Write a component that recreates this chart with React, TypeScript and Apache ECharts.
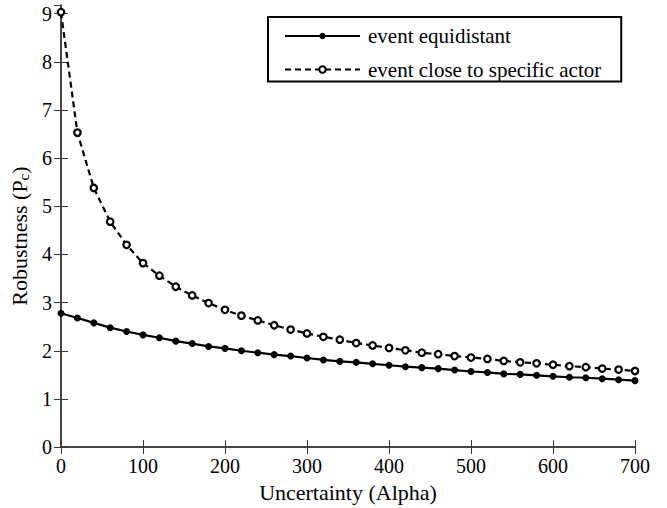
import React, { useEffect, useRef } from "react";
import * as echarts from "echarts";

const alpha = [0, 20, 40, 60, 80, 100, 120, 140, 160, 180, 200, 220, 240, 260, 280, 300, 320, 340, 360, 380, 400, 420, 440, 460, 480, 500, 520, 540, 560, 580, 600, 620, 640, 660, 680, 700];
const equidistant = [2.78, 2.68, 2.58, 2.48, 2.40, 2.33, 2.27, 2.20, 2.15, 2.09, 2.05, 2.00, 1.96, 1.92, 1.89, 1.85, 1.81, 1.78, 1.76, 1.73, 1.70, 1.67, 1.65, 1.63, 1.60, 1.57, 1.55, 1.52, 1.51, 1.49, 1.47, 1.45, 1.44, 1.42, 1.40, 1.38];
const closeToActor = [9.03, 6.53, 5.38, 4.68, 4.20, 3.82, 3.56, 3.33, 3.15, 2.99, 2.85, 2.73, 2.63, 2.53, 2.44, 2.36, 2.29, 2.23, 2.16, 2.11, 2.06, 2.01, 1.96, 1.93, 1.89, 1.86, 1.83, 1.79, 1.76, 1.74, 1.71, 1.68, 1.66, 1.63, 1.61, 1.58];
const seriesNames = ["event equidistant", "event close to specific actor"];
const xTitle = "Uncertainty (Alpha)";

const FONT = "Liberation Serif, Times New Roman, serif";
const AXIS_COLOR = "#3a3a3a";

export default function App() {
  const ref = useRef<HTMLDivElement>(null);
  useEffect(() => {
    if (!ref.current) return;
    const chart = echarts.init(ref.current, null, { renderer: "svg" });
    const tickStyle = { show: true, inside: true, length: 7, lineStyle: { color: AXIS_COLOR, width: 1 } };
    const lineStyle = { show: true, lineStyle: { color: AXIS_COLOR, width: 1.5 } };
    chart.setOption({
      animation: false,
      backgroundColor: "#fff",
      grid: { left: 61, right: 32, top: 5, bottom: 59 },
      legend: {
        orient: "vertical",
        left: 268,
        top: 17,
        padding: [8, 20, 1, 16],
        itemGap: 11.5,
        itemWidth: 75,
        itemHeight: 8,
        borderColor: "#000",
        borderWidth: 2,
        backgroundColor: "#fff",
        textStyle: { fontFamily: FONT, fontSize: 21, lineHeight: 22, color: "#000", padding: [0, 0, 0, 3] },
        data: [
          { name: seriesNames[0], itemStyle: { color: "#000" } },
          { name: seriesNames[1], itemStyle: { color: "#fff", borderColor: "#000", borderWidth: 2 } },
        ],
      },
      xAxis: [
        {
          type: "value",
          min: 0,
          max: 700,
          interval: 100,
          position: "bottom",
          axisLine: lineStyle,
          axisTick: tickStyle,
          splitLine: { show: false },
          axisLabel: { fontFamily: FONT, fontSize: 20, color: "#000", margin: 9 },
          name: xTitle,
          nameLocation: "middle",
          nameGap: 26,
          nameTextStyle: { fontFamily: FONT, fontSize: 22, lineHeight: 22, color: "#000" },
        },
        {
          type: "value",
          min: 0,
          max: 700,
          interval: 100,
          position: "top",
          axisLine: lineStyle,
          axisTick: tickStyle,
          splitLine: { show: false },
          axisLabel: { show: false },
        },
      ],
      yAxis: [
        {
          type: "value",
          min: 0,
          max: 9.18,
          interval: 1,
          position: "left",
          axisLine: lineStyle,
          axisTick: tickStyle,
          splitLine: { show: false },
          axisLabel: {
            fontFamily: FONT,
            fontSize: 20,
            color: "#000",
            margin: 9,
            showMaxLabel: false,
            formatter: (v: number) => (Math.abs(v - Math.round(v)) < 1e-6 ? String(Math.round(v)) : ""),
          },
          name: "{a|Robustness (P}{s|c}{a|)}",
          nameLocation: "middle",
          nameGap: 25,
          nameTextStyle: {
            fontFamily: FONT,
            fontSize: 22,
            color: "#000",
            padding: [0, 20, 0, 0],
            rich: {
              a: { fontFamily: FONT, fontSize: 22, color: "#000" },
              s: { fontFamily: FONT, fontSize: 15, color: "#000", verticalAlign: "bottom", padding: [9, 0, 0, 0] },
            },
          },
        },
        {
          type: "value",
          min: 0,
          max: 9.18,
          interval: 1,
          position: "right",
          axisLine: lineStyle,
          axisTick: tickStyle,
          splitLine: { show: false },
          axisLabel: { show: false },
        },
      ],
      series: [
        {
          name: seriesNames[0],
          type: "line",
          data: alpha.map((x, i) => [x, equidistant[i]]),
          symbol: "circle",
          symbolSize: 7,
          itemStyle: { color: "#000" },
          lineStyle: { color: "#000", width: 2.2 },
          z: 3,
        },
        {
          name: seriesNames[1],
          type: "line",
          data: alpha.map((x, i) => [x, closeToActor[i]]),
          symbol: "circle",
          symbolSize: 6.5,
          itemStyle: { color: "#fff", borderColor: "#000", borderWidth: 2.2 },
          lineStyle: { color: "#000", width: 2.2, type: [6, 4] },
          z: 4,
        },
      ],
    });
    return () => chart.dispose();
  }, []);
  return <div ref={ref} style={{ position: "fixed", left: 0, top: 0, width: 667, height: 508 }} />;
}
